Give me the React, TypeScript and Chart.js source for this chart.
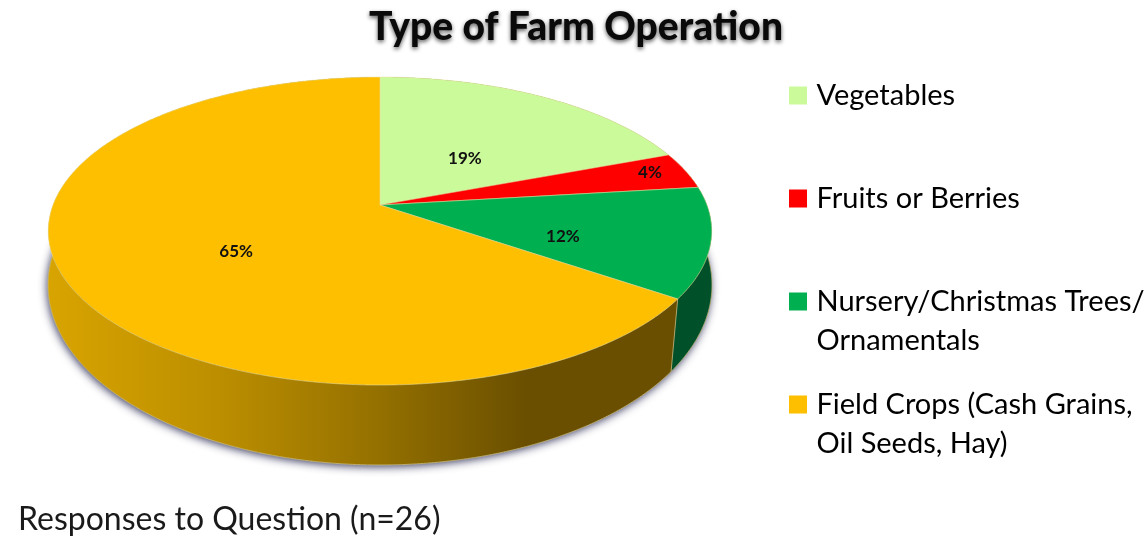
import React, { useEffect, useRef } from "react";
import { Chart, registerables } from "chart.js";

Chart.register(...registerables);

const titleText = "Type of Farm Operation";
const noteText = "Responses to Question (n=26)";
const categories = ["Vegetables", "Fruits or Berries", "Nursery/Christmas Trees/ Ornamentals", "Field Crops (Cash Grains, Oil Seeds, Hay)"];
const legendLines = [["Vegetables", ""], ["Fruits or Berries", ""], ["Nursery/Christmas Trees/", "Ornamentals"], ["Field Crops (Cash Grains,", "Oil Seeds, Hay)"]];
const responses = [5, 1, 3, 17];
const percentLabels = ["19%", "4%", "12%", "65%"];
const topColors = ["#cbfa9a", "#ff0000", "#00b050", "#fdbf00"];
const labelDepth = [0.43, 0.885, 0.578, 0.513];
const labelSweep = [0.572, 0.45, 0.67, 0.467];

const W = 1145;
const H = 537;
const TOP = { cx: 380, cy: 205, a: 327, b: 149.6, p: 0.169 };
const BASE = { cx: 380, cy: 263.4, a: 329.6, b: 177.4, p: 0.12 };

function project(g: typeof TOP, theta: number, f = 1) {
  const u = f * Math.sin(theta);
  const v = -f * Math.cos(theta);
  const w = 1 - g.p * v;
  return { x: g.cx + (g.a * u) / w, y: g.cy + (g.b * v) / w };
}

function rimPoints(g: typeof TOP, t0: number, t1: number) {
  const n = Math.max(4, Math.ceil((t1 - t0) / 0.01));
  const pts: { x: number; y: number }[] = [];
  for (let i = 0; i <= n; i++) pts.push(project(g, t0 + ((t1 - t0) * i) / n));
  return pts;
}

const perspectivePie = {
  id: "perspectivePie",
  afterLayout(chart: any) {
    const legend = chart.legend;
    legend.left = 769;
    legend.right = W;
    legend.top = 56;
    legend.bottom = H;
    for (const b of chart.boxes) {
      if (b.options?.text === titleText) {
        b.left = 7;
        b.right = W;
        b.top = 4;
        b.bottom = 52;
        if (!b.__shadowed) {
          b.__shadowed = true;
          const orig = b.draw.bind(b);
          b.draw = (...args: any[]) => {
            const ctx = chart.ctx;
            ctx.save();
            ctx.shadowColor = "rgba(0,0,0,0.65)";
            ctx.shadowBlur = 4;
            ctx.shadowOffsetY = 2;
            orig(...args);
            ctx.restore();
          };
        }
      } else if (b.options?.text === noteText) {
        b.left = 18;
        b.right = W;
        b.top = 500;
        b.bottom = 537;
      }
    }
  },
  beforeDatasetsDraw(chart: any) {
    const ctx: CanvasRenderingContext2D = chart.ctx;
    const arcs = chart.getDatasetMeta(0).data;
    const sweep = arcs.map((a: any) => [a.startAngle + Math.PI / 2, a.endAngle + Math.PI / 2]);

    ctx.save();
    // soft shadow under the disc
    ctx.save();
    ctx.shadowColor = "rgba(45,45,85,0.9)";
    ctx.shadowBlur = 8;
    ctx.shadowOffsetX = -1;
    ctx.shadowOffsetY = 2;
    ctx.fillStyle = "#5c4500";
    ctx.beginPath();
    rimPoints(BASE, 0, Math.PI * 2).forEach((p) => ctx.lineTo(p.x, p.y));
    ctx.closePath();
    ctx.fill();
    ctx.restore();

    // side walls
    const wallGrad = ctx.createLinearGradient(48, 0, 712, 0);
    wallGrad.addColorStop(0, "#d8a400");
    wallGrad.addColorStop(0.25, "#bd8f00");
    wallGrad.addColorStop(0.5, "#947000");
    wallGrad.addColorStop(0.72, "#6a4f00");
    wallGrad.addColorStop(1, "#6a4f00");
    const wallFills = ["#5c8c3a", "#8c0000", "#00502a", wallGrad];
    sweep.forEach(([t0, t1]: number[], i: number) => {
      const upper = rimPoints(TOP, t0, t1);
      const lower = rimPoints(BASE, t0, t1).reverse();
      ctx.beginPath();
      upper.concat(lower).forEach((p) => ctx.lineTo(p.x, p.y));
      ctx.closePath();
      ctx.fillStyle = wallFills[i] as any;
      ctx.fill();
      ctx.strokeStyle = "rgba(205,195,140,0.75)";
      ctx.lineWidth = 1;
      ctx.beginPath();
      lower.forEach((p) => ctx.lineTo(p.x, p.y));
      ctx.lineTo(upper[0].x, upper[0].y);
      ctx.stroke();
    });

    // top faces
    sweep.forEach(([t0, t1]: number[], i: number) => {
      ctx.beginPath();
      ctx.moveTo(TOP.cx, TOP.cy);
      rimPoints(TOP, t0, t1).forEach((p) => ctx.lineTo(p.x, p.y));
      ctx.closePath();
      ctx.fillStyle = topColors[i];
      ctx.fill();
      ctx.strokeStyle = "rgba(235,225,165,0.55)";
      ctx.lineWidth = 1;
      ctx.stroke();
    });

    // value labels
    ctx.fillStyle = "#111111";
    ctx.font = "bold 17px Lato";
    ctx.textAlign = "center";
    ctx.textBaseline = "middle";
    sweep.forEach(([t0, t1]: number[], i: number) => {
      const p = project(TOP, t0 + (t1 - t0) * labelSweep[i], labelDepth[i]);
      ctx.fillText(percentLabels[i], p.x, p.y);
    });
    ctx.restore();
    return false;
  },
};

export default function App() {
  const ref = useRef<HTMLCanvasElement>(null);
  useEffect(() => {
    if (!ref.current) return;
    const chart = new Chart(ref.current, {
      type: "pie",
      data: {
        labels: categories,
        datasets: [{ data: responses, backgroundColor: topColors, borderWidth: 0 }],
      },
      options: {
        responsive: false,
        animation: false,
        events: [],
        plugins: {
          tooltip: { enabled: false },
          title: {
            display: true,
            text: titleText,
            color: "#0a0a0a",
            font: { family: "Lato", size: 39, weight: "900", lineHeight: 1.2 },
            padding: 0,
          },
          subtitle: {
            display: true,
            text: noteText,
            position: "bottom",
            align: "start",
            color: "#1a1a1a",
            font: { family: "Lato", size: 32, weight: "normal", lineHeight: 1.2 },
            padding: 0,
          },
          legend: {
            display: true,
            position: "right",
            align: "start",
            labels: {
              color: "#1a1a1a",
              boxWidth: 8,
              boxHeight: 8,
              padding: 25,
              font: { family: "Lato", size: 29, lineHeight: 39 / 29 },
              generateLabels: () =>
                legendLines.map((text, i) => ({
                  text,
                  fillStyle: topColors[i],
                  strokeStyle: topColors[i],
                  lineWidth: 10,
                  hidden: false,
                  index: i,
                })) as any,
            },
          },
        },
      },
      plugins: [perspectivePie],
    } as any);
    return () => chart.destroy();
  }, []);
  return (
    <canvas
      ref={ref}
      width={W}
      height={H}
      style={{ position: "absolute", left: 0, top: 0, display: "block", filter: "blur(0.5px)" }}
    />
  );
}
